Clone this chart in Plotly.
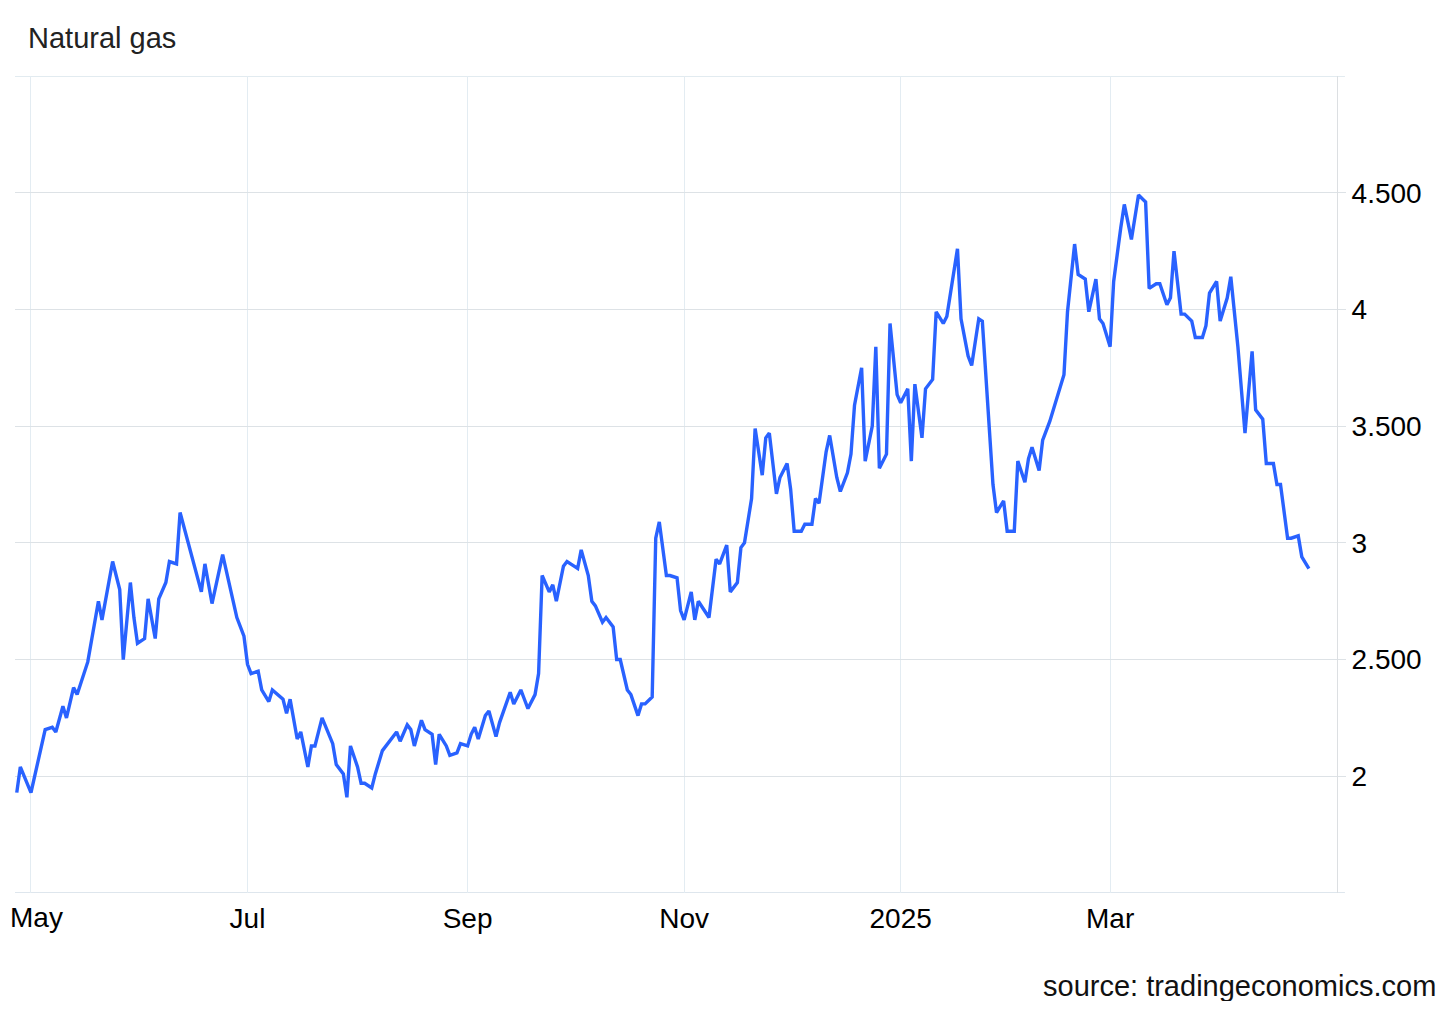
import plotly.graph_objects as go

# ---- data ----
dates = [
    "2024-04-27", "2024-04-28", "2024-05-01", "2024-05-04", "2024-05-05", "2024-05-07", "2024-05-08",
    "2024-05-10", "2024-05-11", "2024-05-13", "2024-05-14", "2024-05-17", "2024-05-20", "2024-05-21",
    "2024-05-23", "2024-05-24", "2024-05-26", "2024-05-27", "2024-05-29", "2024-05-30", "2024-05-31",
    "2024-06-02", "2024-06-03", "2024-06-05", "2024-06-06", "2024-06-08", "2024-06-09", "2024-06-11",
    "2024-06-12", "2024-06-15", "2024-06-18", "2024-06-19", "2024-06-21", "2024-06-24", "2024-06-27",
    "2024-06-28", "2024-06-30", "2024-07-01", "2024-07-02", "2024-07-04", "2024-07-05", "2024-07-07",
    "2024-07-08", "2024-07-11", "2024-07-12", "2024-07-13", "2024-07-15", "2024-07-16", "2024-07-18",
    "2024-07-19", "2024-07-20", "2024-07-22", "2024-07-25", "2024-07-26", "2024-07-28", "2024-07-29",
    "2024-07-30", "2024-08-01", "2024-08-02", "2024-08-03", "2024-08-05", "2024-08-06", "2024-08-08",
    "2024-08-09", "2024-08-10", "2024-08-12", "2024-08-13", "2024-08-15", "2024-08-16", "2024-08-17",
    "2024-08-19", "2024-08-20", "2024-08-22", "2024-08-23", "2024-08-24", "2024-08-26", "2024-08-27",
    "2024-08-29", "2024-08-30", "2024-09-01", "2024-09-02", "2024-09-03", "2024-09-04", "2024-09-06",
    "2024-09-07", "2024-09-09", "2024-09-10", "2024-09-11", "2024-09-13", "2024-09-14", "2024-09-16",
    "2024-09-17", "2024-09-18", "2024-09-20", "2024-09-21", "2024-09-22", "2024-09-24", "2024-09-25",
    "2024-09-26", "2024-09-28", "2024-09-29", "2024-10-01", "2024-10-02", "2024-10-03", "2024-10-05",
    "2024-10-06", "2024-10-07", "2024-10-09", "2024-10-10", "2024-10-12", "2024-10-13", "2024-10-14",
    "2024-10-16", "2024-10-17", "2024-10-19", "2024-10-20", "2024-10-21", "2024-10-23", "2024-10-24",
    "2024-10-25", "2024-10-27", "2024-10-28", "2024-10-30", "2024-10-31", "2024-11-01", "2024-11-03",
    "2024-11-04", "2024-11-05", "2024-11-07", "2024-11-08", "2024-11-10", "2024-11-11", "2024-11-13",
    "2024-11-14", "2024-11-16", "2024-11-17", "2024-11-18", "2024-11-20", "2024-11-21", "2024-11-23",
    "2024-11-24", "2024-11-25", "2024-11-27", "2024-11-28", "2024-11-30", "2024-12-01", "2024-12-02",
    "2024-12-04", "2024-12-05", "2024-12-07", "2024-12-08", "2024-12-09", "2024-12-11", "2024-12-12",
    "2024-12-14", "2024-12-15", "2024-12-17", "2024-12-18", "2024-12-19", "2024-12-21", "2024-12-22",
    "2024-12-24", "2024-12-25", "2024-12-26", "2024-12-28", "2024-12-29", "2024-12-31", "2025-01-01",
    "2025-01-03", "2025-01-04", "2025-01-05", "2025-01-07", "2025-01-08", "2025-01-10", "2025-01-11",
    "2025-01-13", "2025-01-14", "2025-01-15", "2025-01-17", "2025-01-18", "2025-01-20", "2025-01-21",
    "2025-01-23", "2025-01-24", "2025-01-26", "2025-01-27", "2025-01-28", "2025-01-30", "2025-01-31",
    "2025-02-02", "2025-02-03", "2025-02-05", "2025-02-06", "2025-02-07", "2025-02-09", "2025-02-10",
    "2025-02-12", "2025-02-13", "2025-02-14", "2025-02-16", "2025-02-17", "2025-02-19", "2025-02-20",
    "2025-02-22", "2025-02-23", "2025-02-25", "2025-02-26", "2025-02-27", "2025-03-01", "2025-03-02",
    "2025-03-04", "2025-03-05", "2025-03-07", "2025-03-08", "2025-03-09", "2025-03-11", "2025-03-12",
    "2025-03-14", "2025-03-15", "2025-03-17", "2025-03-18", "2025-03-19", "2025-03-21", "2025-03-22",
    "2025-03-24", "2025-03-25", "2025-03-27", "2025-03-28", "2025-03-29", "2025-03-31", "2025-04-01",
    "2025-04-03", "2025-04-04", "2025-04-06", "2025-04-07", "2025-04-08", "2025-04-10", "2025-04-11",
    "2025-04-13", "2025-04-14", "2025-04-16", "2025-04-17", "2025-04-18", "2025-04-20", "2025-04-21",
    "2025-04-23", "2025-04-24", "2025-04-26",
]

prices = [
    1.93, 2.04, 1.93, 2.14, 2.20, 2.21, 2.19,
    2.30, 2.25, 2.38, 2.35, 2.49, 2.75, 2.67,
    2.85, 2.92, 2.80, 2.50, 2.83, 2.68, 2.57,
    2.59, 2.76, 2.59, 2.76, 2.83, 2.92, 2.91,
    3.13, 2.96, 2.79, 2.91, 2.74, 2.95, 2.74,
    2.68, 2.60, 2.48, 2.44, 2.45, 2.37, 2.32,
    2.37, 2.33, 2.27, 2.33, 2.16, 2.19, 2.04,
    2.13, 2.13, 2.25, 2.14, 2.05, 2.01, 1.91,
    2.13, 2.04, 1.97, 1.97, 1.95, 2.01, 2.11,
    2.13, 2.15, 2.19, 2.15, 2.22, 2.20, 2.13,
    2.24, 2.20, 2.18, 2.05, 2.18, 2.13, 2.09,
    2.10, 2.14, 2.13, 2.18, 2.21, 2.16, 2.26,
    2.28, 2.17, 2.23, 2.27, 2.36, 2.31, 2.37,
    2.33, 2.29, 2.35, 2.44, 2.86, 2.79, 2.82,
    2.75, 2.90, 2.92, 2.90, 2.89, 2.97, 2.86,
    2.75, 2.73, 2.66, 2.68, 2.64, 2.50, 2.50,
    2.37, 2.35, 2.26, 2.31, 2.31, 2.34, 3.02,
    3.09, 2.86, 2.86, 2.85, 2.71, 2.67, 2.79,
    2.67, 2.75, 2.70, 2.68, 2.93, 2.91, 2.99,
    2.79, 2.83, 2.98, 3.00, 3.19, 3.49, 3.29,
    3.45, 3.47, 3.21, 3.28, 3.34, 3.23, 3.05,
    3.05, 3.08, 3.08, 3.19, 3.17, 3.39, 3.46,
    3.28, 3.22, 3.30, 3.38, 3.59, 3.75, 3.35,
    3.50, 3.84, 3.32, 3.38, 3.94, 3.635, 3.60,
    3.66, 3.35, 3.68, 3.45, 3.66, 3.70, 3.99,
    3.94, 3.97, 4.07, 4.26, 3.96, 3.80, 3.76,
    3.96, 3.95, 3.45, 3.25, 3.13, 3.18, 3.05,
    3.05, 3.35, 3.26, 3.36, 3.41, 3.31, 3.44,
    3.52, 3.57, 3.63, 3.72, 3.99, 4.28, 4.15,
    4.13, 3.99, 4.13, 3.96, 3.94, 3.84, 4.12,
    4.35, 4.45, 4.30, 4.40, 4.49, 4.46, 4.09,
    4.11, 4.11, 4.02, 4.05, 4.25, 3.98, 3.98,
    3.95, 3.88, 3.88, 3.93, 4.07, 4.12, 3.95,
    4.05, 4.14, 3.84, 3.65, 3.47, 3.82, 3.57,
    3.53, 3.34, 3.34, 3.25, 3.25, 3.02, 3.02,
    3.03, 2.94, 2.89,
]

x_tick_values = ["2024-05-01", "2024-07-01", "2024-09-01", "2024-11-01", "2025-01-01", "2025-03-01"]
x_tick_labels = ["May", "Jul", "Sep", "Nov", "2025", "Mar"]
y_tick_values = [2, 2.5, 3, 3.5, 4, 4.5]
y_tick_labels = ["2", "2.500", "3", "3.500", "4", "4.500"]

title_text = "Natural gas"
source_text = "source: tradingeconomics.com"

FONT = "Arial, Liberation Sans, sans-serif"

fig = go.Figure()
fig.add_trace(go.Scatter(
    x=dates, y=prices, mode="lines",
    line=dict(color="#2962ff", width=3.4),
    hoverinfo="x+y", showlegend=False,
))

fig.update_layout(
    width=1440, height=993,
    margin=dict(l=7, r=111, t=68, b=108),
    paper_bgcolor="white", plot_bgcolor="white",
    font=dict(family=FONT, size=28, color="#000000"),
    xaxis=dict(
        type="date",
        range=["2024-04-26 12:00", "2025-05-03 22:00"],
        tickmode="array", tickvals=x_tick_values, ticktext=x_tick_labels,
        showgrid=True, gridcolor="#e3ecf2", gridwidth=1,
        zeroline=False, showline=False, ticks="",
        tickfont=dict(family=FONT, size=28, color="#000000"),
        ticklabelstandoff=6,
    ),
    yaxis=dict(
        side="right",
        range=[1.5, 5.0],
        tickmode="array", tickvals=y_tick_values, ticktext=y_tick_labels,
        showgrid=True, gridcolor="#dde2e6", gridwidth=1,
        zeroline=False,
        showline=True, linecolor="#dcdfe2", linewidth=1,
        ticks="outside", ticklen=8, tickcolor="#dde2e6", tickwidth=1,
        tickfont=dict(family=FONT, size=28, color="#000000"),
    ),
    shapes=[
        dict(type="line", xref="paper", yref="y", x0=0, x1=1.006, y0=5.0, y1=5.0,
             line=dict(color="#d9e4eb", width=1.5), layer="below"),
        dict(type="line", xref="paper", yref="y", x0=0, x1=1.006, y0=1.5, y1=1.5,
             line=dict(color="#d3dee7", width=1.5), layer="below"),
    ],
    annotations=[
        dict(text=title_text, xref="paper", yref="paper", x=0.0083, y=1.0465,
             xanchor="left", yanchor="middle", showarrow=False,
             font=dict(family=FONT, size=29, color="#222222")),
        dict(text=source_text, xref="paper", yref="paper", x=1.0764, y=-0.1138,
             xanchor="right", yanchor="middle", showarrow=False,
             font=dict(family=FONT, size=29, color="#111111")),
        # first month label sits partly outside the plot's left edge; the axis
        # hides it, so it is drawn as text pinned to the figure's left edge
        dict(text=x_tick_labels[0], xref="paper", yref="paper", x=-0.0053, y=-0.0298,
             xanchor="left", yanchor="middle", showarrow=False,
             font=dict(family=FONT, size=28, color="#000000")),
    ],
)

fig.write_html("out.html")
